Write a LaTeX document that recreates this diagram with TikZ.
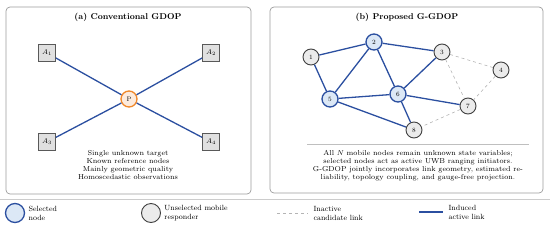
\documentclass[tikz,border=0pt]{standalone}
\usetikzlibrary{positioning}
\definecolor{LinkBlue}{HTML}{2B4FA0}
\definecolor{SelFill}{HTML}{DCE8F6}
\definecolor{MobFill}{HTML}{EBEBEB}
\definecolor{TargetOrange}{HTML}{F0882A}
\definecolor{TargetFill}{HTML}{FDEBDD}
\definecolor{PanelGray}{HTML}{9C9C9C}
\definecolor{AnchorFill}{HTML}{E0E0E0}
\definecolor{CandGray}{HTML}{B4B4B4}

\begin{document}
\begin{tikzpicture}[x=1pt, y=-1pt, every node/.style={font=\fontsize{7.2}{8}\selectfont}]
    \tikzstyle{panel}=[draw=PanelGray, rounded corners=4pt, line width=0.7pt]
    \tikzstyle{title}=[font=\bfseries\fontsize{8.5}{10}\selectfont]
    \tikzstyle{anchorbox}=[draw=black!65, fill=AnchorFill, minimum size=17pt, inner sep=0pt, line width=0.7pt]
    \tikzstyle{target}=[circle, draw=TargetOrange, fill=TargetFill, line width=1.3pt, minimum size=16pt, inner sep=0pt, font=\fontsize{6.5}{7}\selectfont]
    \tikzstyle{selnode}=[circle, draw=LinkBlue, fill=SelFill, line width=1.3pt, minimum size=16pt, inner sep=0pt, font=\fontsize{6.5}{7}\selectfont]
    \tikzstyle{mobnode}=[circle, draw=black!75, fill=MobFill, line width=0.9pt, minimum size=16pt, inner sep=0pt, font=\fontsize{6.5}{7}\selectfont]
    \tikzstyle{activelink}=[LinkBlue, line width=1.3pt]
    \tikzstyle{candlink}=[CandGray, dashed, line width=0.6pt]
    \useasboundingbox (0,0) rectangle (550,226);

    % (a) conventional
    \draw[panel] (6,7) rectangle (251,194);
    \node[title] (titleA) at (128,17) {(a) Conventional GDOP};
    \node[anchorbox] (a1) at (47,53) {$A_1$};
    \node[anchorbox] (a2) at (211,53) {$A_2$};
    \node[anchorbox] (a3) at (47,142) {$A_3$};
    \node[anchorbox] (a4) at (211,142) {$A_4$};
    \node[target] (p) at (129,99) {P};
    \foreach \n in {a1,a2,a3,a4}
        \draw[activelink] (p) -- (\n);
    \node[align=center] (notesA) at (128,165) {Single unknown target\\Known reference nodes\\Mainly geometric quality\\Homoscedastic observations};

    % (b) proposed
    \draw[panel] (270,7) rectangle (543,193);
    \node[title] (titleB) at (407,17) {(b) Proposed G-GDOP};
    \node[mobnode] (n1) at (311,57) {1};
    \node[selnode] (n2) at (374,42) {2};
    \node[mobnode] (n3) at (442,52) {3};
    \node[mobnode] (n4) at (501,70) {4};
    \node[selnode] (n5) at (330,99) {5};
    \node[selnode] (n6) at (398,94) {6};
    \node[mobnode] (n7) at (468,106) {7};
    \node[mobnode] (n8) at (414,130) {8};
    \foreach \u/\v in {n1/n2, n1/n5, n2/n5, n2/n3, n2/n6, n3/n6, n5/n6, n5/n8, n6/n7, n6/n8}
        \draw[activelink] (\u) -- (\v);
    \foreach \u/\v in {n3/n4, n3/n7, n4/n7, n7/n8}
        \draw[candlink] (\u) -- (\v);
    \coordinate (sepL) at (307,144);
    \coordinate (sepR) at (529,144);
    \draw[black!25, line width=0.5pt] (sepL) -- (sepR);
    \node[align=center] (notesB) at (418,166) {All $N$ mobile nodes remain unknown state variables;\\selected nodes act as active UWB ranging initiators.\\G-GDOP jointly incorporates link geometry, estimated re-\\liability, topology coupling, and gauge-free projection.};

    % legend
    \coordinate (ruleL) at (0,199);
    \coordinate (ruleR) at (550,199);
    \draw[black!20, line width=0.5pt] (ruleL) -- (ruleR);
    \node[selnode, minimum size=19pt] (legSel) at (15,213) {};
    \node[right=0pt of legSel, align=left, font=\fontsize{7.5}{9}\selectfont] (legSelTxt) {Selected\\node};
    \node[mobnode, minimum size=19pt] (legMob) at (151,213) {};
    \node[right=0pt of legMob, align=left, font=\fontsize{7.5}{9}\selectfont] (legMobTxt) {Unselected mobile\\responder};
    \coordinate (candA) at (277,213);
    \coordinate (candB) at (308,213);
    \draw[candlink] (candA) -- (candB);
    \node[right=2pt of candB, align=left, font=\fontsize{7.5}{9}\selectfont] (legCandTxt) {Inactive\\candidate link};
    \coordinate (actA) at (419,212);
    \coordinate (actB) at (443,212);
    \draw[activelink] (actA) -- (actB);
    \node[right=2pt of actB, align=left, font=\fontsize{7.5}{9}\selectfont] (legActTxt) {Induced\\active link};
\end{tikzpicture}
\end{document}
